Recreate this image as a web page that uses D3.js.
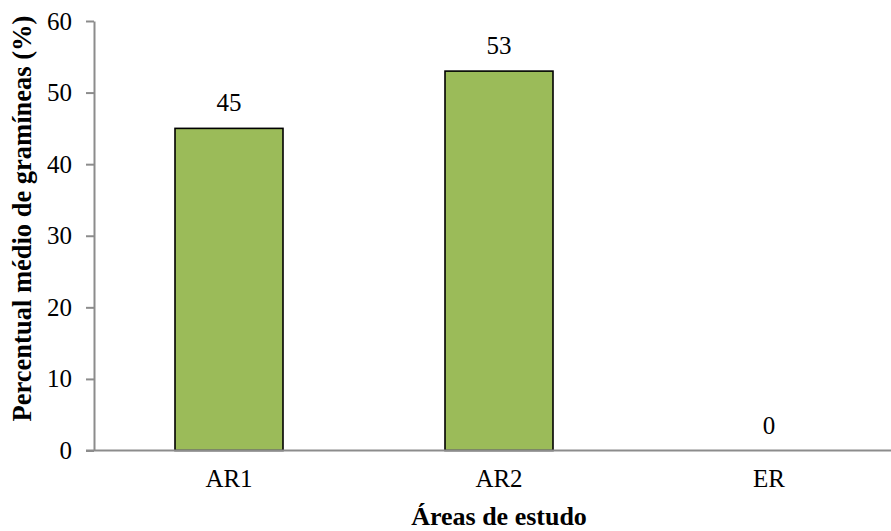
<!DOCTYPE html>
<html>
<head>
<meta charset="utf-8">
<script src="https://cdn.jsdelivr.net/npm/d3@7"></script>
<style>
  html, body { margin: 0; padding: 0; background: #fff; }
  svg text { font-family: "Times New Roman", "Liberation Serif", Tinos, "DejaVu Serif", serif !important; }
</style>
</head>
<body>
<svg id="chart" width="891" height="531"></svg>
<script>
// Mean grass percentage per study area
const categories = ["AR1", "AR2", "ER"];
const values = [45, 53, 0];
const yTicks = [0, 10, 20, 30, 40, 50, 60];

const svg = d3.select("#chart");
const plotLeft = 94, plotTop = 21, plotBottom = 450.5, plotRight = 904;

const x = d3.scaleBand().domain(categories).range([plotLeft, plotRight]).paddingInner(0.6).paddingOuter(0.3);
const y = d3.scaleLinear().domain([0, 60]).range([plotBottom, plotTop]);

const axisColor = "#8c8c8c";
const labelSize = 25;
const rows = categories.map((c, i) => ({ c, v: values[i] }));

// Bars
svg.selectAll("rect.bar")
  .data(rows)
  .join("rect")
  .attr("class", "bar")
  .attr("x", d => x(d.c))
  .attr("width", x.bandwidth())
  .attr("y", d => y(d.v))
  .attr("height", d => y(0) - y(d.v))
  .attr("fill", "#9bbb59")
  .attr("stroke", d => d.v > 0 ? "#000" : "none")
  .attr("stroke-width", 1.6);

// Y axis
const yAxis = svg.append("g")
  .attr("transform", `translate(${plotLeft},0)`)
  .call(d3.axisLeft(y).tickValues(yTicks).tickSize(8).tickPadding(14).tickSizeOuter(0));
yAxis.select(".domain").attr("stroke", axisColor).attr("stroke-width", 2);
yAxis.selectAll(".tick line").attr("stroke", axisColor).attr("stroke-width", 2);
yAxis.selectAll(".tick text").attr("fill", "#000").attr("font-size", labelSize);

// X axis
const xAxis = svg.append("g")
  .attr("transform", `translate(0,${plotBottom})`)
  .call(d3.axisBottom(x).tickSize(0).tickPadding(19).tickSizeOuter(0));
xAxis.select(".domain").attr("stroke", axisColor).attr("stroke-width", 2.2)
  .attr("d", `M${plotLeft - 8},0H${plotRight}`);
xAxis.selectAll(".tick text").attr("fill", "#000").attr("font-size", labelSize);

// Value labels
svg.selectAll("text.val")
  .data(rows)
  .join("text")
  .attr("class", "val")
  .attr("x", d => x(d.c) + x.bandwidth() / 2)
  .attr("y", d => y(d.v) - 17)
  .attr("text-anchor", "middle")
  .attr("font-size", labelSize)
  .text(d => d.v);

// Axis titles
svg.append("text")
  .attr("x", 499)
  .attr("y", 525)
  .attr("text-anchor", "middle")
  .attr("font-size", 26)
  .attr("font-weight", "bold")
  .text("Áreas de estudo");

svg.append("text")
  .attr("transform", "translate(31,218.5) rotate(-90)")
  .attr("text-anchor", "middle")
  .attr("font-size", 26.5)
  .attr("font-weight", "bold")
  .text("Percentual médio de gramíneas (%)");
</script>
</body>
</html>
